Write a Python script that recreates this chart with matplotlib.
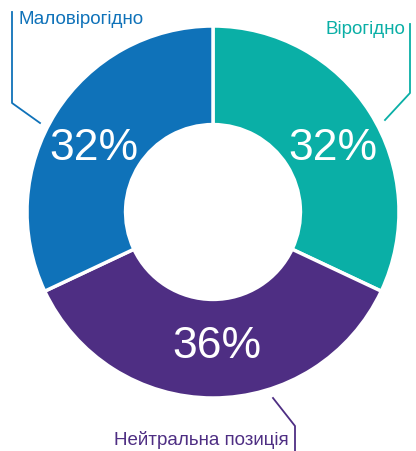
import matplotlib.pyplot as plt

labels = ['Вірогідно', 'Нейтральна позиція', 'Маловірогідно']
shares = [32, 36, 32]
colors = ['#0AAFA6', '#4E2E83', '#0F72B9']

plt.rcParams['font.family'] = ['Liberation Sans', 'DejaVu Sans']

W, H = 416, 451
fig = plt.figure(figsize=(W / 100, H / 100), dpi=100)
ax = fig.add_axes([0, 0, 1, 1])

cx, cy, r = 213, H - 212, 186  # pixel layout, y flipped
wedges, _ = ax.pie(shares, colors=colors, startangle=90, counterclock=False,
                   center=(cx, cy), radius=r, frame=True,
                   wedgeprops=dict(width=r * 0.53, edgecolor='white', linewidth=2.5))
ax.set_xlim(0, W)
ax.set_ylim(0, H)
ax.set_aspect('equal')
ax.axis('off')

# percentages
pct_pos = [(333, 148), (217, 346), (94, 148)]
for v, (x, y) in zip(shares, pct_pos):
    ax.text(x, H - y, f'{v}%', color='white', fontsize=32, ha='center', va='center')

# labels with leader lines
ax.text(405, H - 30, labels[0], color=colors[0], fontsize=13.5, ha='right', va='center')
ax.plot([410, 410, 385], [H - 24, H - 93, H - 120], color=colors[0], lw=1.3)

ax.text(289, H - 440, labels[1], color=colors[1], fontsize=13.5, ha='right', va='center')
ax.plot([273, 295, 295], [H - 398, H - 426, H - 451], color=colors[1], lw=1.3)

ax.text(19, H - 19, labels[2], color=colors[2], fontsize=13.5, ha='left', va='center')
ax.plot([12, 12, 40], [H - 12, H - 103, H - 123], color=colors[2], lw=1.3)

fig.savefig('out.png', dpi=100)
